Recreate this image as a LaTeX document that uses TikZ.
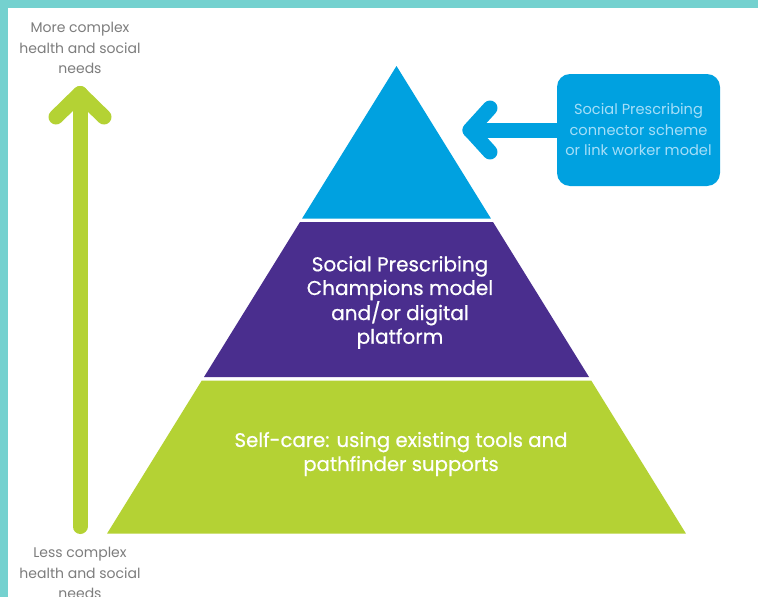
\documentclass[tikz,border=0pt]{standalone}
\usepackage{fontspec}
\setmainfont{Poppins}
\newfontfamily\medfont{Poppins}[FakeBold=0.6]
\definecolor{bordercol}{RGB}{116,209,207}
\definecolor{topblue}{RGB}{0,161,224}
\definecolor{midpurple}{RGB}{74,46,142}
\definecolor{lowgreen}{RGB}{180,210,52}
\definecolor{labelgray}{RGB}{125,125,125}
\definecolor{boxtext}{RGB}{165,222,248}
\tikzset{
  graylabel/.style={text=labelgray, align=center, font=\fontsize{14}{20.5}\selectfont},
  layertext/.style={text=white, align=center},
  thickarrow/.style={line width=15pt, line cap=round, line join=round}
}
\begin{document}
\begin{tikzpicture}[x=1pt,y=-1pt]
\useasboundingbox (0,0) rectangle (758,597);
\fill[white] (0,0) rectangle (758,597);
\fill[bordercol] (0,0) rectangle (758,8);
\fill[bordercol] (0,0) rectangle (8,597);
% pyramid layers
\fill[topblue] (396.5,66) -- (490.9,218.5) -- (302.1,218.5) -- cycle;
\fill[midpurple] (300,222) -- (493,222) -- (589,377) -- (204,377) -- cycle;
\fill[lowgreen] (201.8,380.5) -- (591.2,380.5) -- (685.9,533.5) -- (107.1,533.5) -- cycle;
% layer texts
\node[layertext, font=\medfont\fontsize{20}{23.7}\selectfont] (midtext) at (400,302.5) {Social Prescribing\\Champions model\\and/or digital\\platform};
\node[layertext, font=\medfont\fontsize{19.7}{24}\selectfont] (lowtext) at (401,454) {Self-care: using existing tools and\\pathfinder supports};
% box
\node[fill=topblue, rounded corners=13pt, minimum width=163pt, minimum height=112pt, inner sep=0pt,
      text=boxtext, align=center, font=\fontsize{14.6}{20.5}\selectfont] (box) at (638.5,130) {Social Prescribing\\connector scheme\\or link worker model};
\coordinate (btip) at (470,130);
\draw[thickarrow, topblue] (box.west) -- (btip);
\draw[thickarrow, topblue] (490,108) -- (btip) -- (490,152);
% green arrow
\coordinate (gtip) at (80,93.5);
\coordinate (gbase) at (80,526.5);
\draw[thickarrow, lowgreen] (gbase) -- (gtip);
\draw[thickarrow, lowgreen] (56,117) -- (gtip) -- (104,117);
% labels
\node[graylabel] (toplabel) at (80,48) {More complex\\health and social\\needs};
\node[graylabel] (botlabel) at (80,573) {Less complex\\health and social\\needs};
\end{tikzpicture}
\end{document}
